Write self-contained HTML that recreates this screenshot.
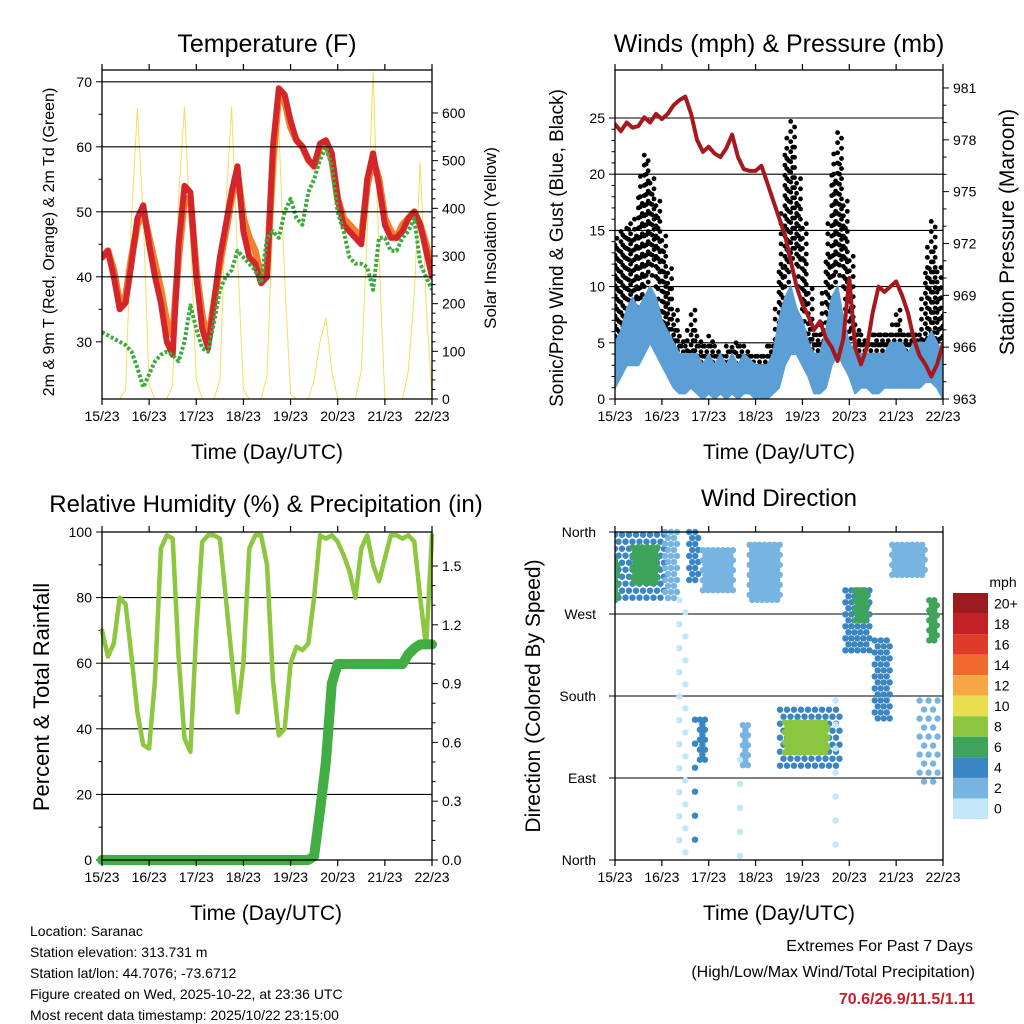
<!DOCTYPE html>
<html><head><meta charset="utf-8"><title>Saranac Station Meteogram</title>
<style>
html,body{margin:0;padding:0;background:#fff;}
svg{display:block;font-family:"Liberation Sans",Arial,sans-serif;}
</style></head>
<body>
<svg id="chart" width="1024" height="1024" viewBox="0 0 1024 1024" xmlns="http://www.w3.org/2000/svg"></svg>
<script>
// ---------- DATA (3-hourly, starting 15/23 UTC) ----------
const dayLabels = ['15/23','16/23','17/23','18/23','19/23','20/23','21/23','22/23'];
const tempRed = [43,44,40,35,36,42,49,51,45,40,36,30,28,45,54,53,40,32,29,36,43,48,53,57,47,43,42,39,40,60,69,68,64,61,60,58,57,60.5,61,59,52,48,47,46,45,55,59,54,48,46,46,47,49,50,48,44,40];
const tempOrange = [43,44,41,36,37,43,48,50,46,42,38,33,31,43,52,52,41,34,30,36,42,47,52,56,49,46,44,40,41,58,68,67,63,61,60,58,57,60,60.5,58,52,49,48,47,46,54,58,55,49,47,46,48,49,50,48,45,41];
const dewGreen = [31.5,31,30.5,30,29.5,28.5,26,23,25,27,28,28.5,28,27,30,35.6,32,29,28.5,33,38,40,41,44,43,42,41,39,46,47,46,50,52,49,48,53,55,58,60,57,50,47,43,42,42,41.5,38,46,46,44,44,46,47,49,42,40,38];
const solar = [0,0,0,0,20,380,610,380,30,0,0,0,30,420,612,350,40,0,0,0,40,400,612,300,20,0,0,0,50,380,570,250,10,0,0,0,40,120,170,60,0,0,0,0,60,350,686,300,0,0,0,0,60,220,497,200,0];
const windHi = [5,6,8,9,8,9,10,9,7,6,5,4,4,4,4,3,4,3,4,3,4,3,4,3.5,3,3,3,4,7,9,10,8,7,5,4,4,6,9,10,7,5,4,4,4,4,4,4,5,5,5,4,5,5,5,6,5,4];
const windLo = [1,2,3,3,3,4,5,4,3,2,1,0.5,0.5,1,0.5,0,0.5,0,0.5,0,0.5,0,0.5,0.5,0,0,0,0.5,1,3,4,4,3,2,0.5,0.5,1,3,4,3,2,0.5,1,1,0.5,0.5,1,1,1,1,1,1,1,1.5,1.5,1,0];
const gustLo = [2,5,8,6,8,10,12,10,6,4,3,2,2,3,2,2,2,2,2,2,1,2,2,2,2,2,2,2,5,10,13,12,8,4,3,3,5,10,12,10,6,3,3,3,3,3,3,3,3,3,3,3,3,4,5,5,2];
const gustHi = [14,15,16,15,18,22,20,18,15,12,8,6,5,8,6,5,6,5,4,5,5,5,5,4,4,4,5,5,12,22,25,20,16,10,6,7,13,20,24,18,13,7,6,5,6,6,6,6,8,6,6,6,6,12,16,12,8];
const pressure = [978.9,978.5,979,978.7,978.8,979.3,979,979.5,979.2,979.5,980,980.3,980.5,979.5,978,977.3,977.6,977.2,977,977.5,978.3,977,976.3,976.2,976.2,976.5,975.5,974.5,973.5,972.5,971,969.5,968.5,967.8,967,967.5,966.5,966,965.2,966.5,970,966,965,966,968,969.5,969.2,969.5,969.8,969,968,966.5,965.5,965,964.3,965,966.2];
const rh = [70,62,66,80,78,62,45,35,34,55,95,99,98,62,37,33,70,97,99,99,98,80,62,45,60,95,99,99,90,55,38,40,60,65,64,66,80,99,98,99,97,93,88,80,95,99,90,85,92,99,99,98,99,97,80,65,99];
const precip = [0,0,0,0,0,0,0,0,0,0,0,0,0,0,0,0,0,0,0,0,0,0,0,0,0,0,0,0,0,0,0,0,0,0,0,0,0.02,0.25,0.5,0.9,1.0,1.0,1.0,1.0,1.0,1.0,1.0,1.0,1.0,1.0,1.0,1.0,1.05,1.08,1.1,1.1,1.1];
// wind-direction observation clusters (hours from start, degrees, mph)
const cH0 = [0,9,25.6,38,45,69,33,41,43.5,65.5,84.5,87,118,123,133,142,156,161,113,64,0];
const cH1 = [25.6,23,33,43.5,61,84.5,37,43.5,46.6,69,115,109,130.5,130.5,141,159,166,166,115,66.5,2.5];
const cD0 = [285,300,285,307,296,285,0,0,110,104,99,115,230,263,154,313,77,241,0,0,285];
const cD1 = [357,343,360,360,340,346,285,154,154,148,165,151,296,296,241,346,175,285,175,110,329];
const cSpeed = [4,7,2,4,2,2,1,4,4,3.5,4,8,4,7,4,2,2,6,1,1,6];
const cbLabels = ['20+','18','16','14','12','10','8','6','4','2','0'];
const cbColors = ['#9b1b1e','#c42127','#e03a2b','#f0692d','#f6a743','#e8df4f','#8cc63f','#3ea35b','#3a86c5','#78b4e2','#c3e6f8'];
// dot spacing per cluster (styling only)
const cStep = [7,5,6,6,5,5,12,12,5,5,7,5,6,5,6,5,9,5,12,12,5];

// ---------- helpers ----------
const NS='http://www.w3.org/2000/svg';
const S=document.getElementById('chart');
function el(tag,a,p){const e=document.createElementNS(NS,tag);for(const k in a)e.setAttribute(k,a[k]);(p||S).appendChild(e);return e;}
function txt(x,y,s,size,anchor,p,extra){const t=el('text',Object.assign({x:x,y:y,'font-size':size,'text-anchor':anchor||'middle',fill:'#000'},extra||{}),p);t.textContent=s;return t;}

function box(name){
  const g=el('g',{});
  
  
  return g;
}
function frame(g,x0,y0,x1,y1){
  const r=el('rect',{x:x0,y:y0,width:x1-x0,height:y1-y0,fill:'none',stroke:'#000','stroke-width':1.3},g);
  
  
}
function xAxis(g,xf,y0,y1){
  for(let d=0;d<dayLabels.length;d++){
    const x=xf(d*24);
    const t1=el('line',{x1:x,x2:x,y1:y1,y2:y1+6,stroke:'#000','stroke-width':1.2},g);
    
    
    const t2=el('line',{x1:x,x2:x,y1:y0,y2:y0-6,stroke:'#000','stroke-width':1.2},g);
    
    
    const l=txt(x,y1+22,dayLabels[d],14,'middle',g);
    
    
  }
}
function yAxis(g,side,xEdge,yf,vMin,vMax,major,minor,fmt,grid,gx0,gx1){
  const dir=side==='left'?-1:1;
  for(let v=vMin;v<=vMax+1e-9;v+=minor){
    const isMaj=Math.abs(Math.round((v-vMin)/major)*major-(v-vMin))<1e-6;
    const y=yf(v);
    const tk=el('line',{x1:xEdge,x2:xEdge+dir*(isMaj?6:3.5),y1:y,y2:y,stroke:'#000','stroke-width':1},g);
    
    
    if(isMaj){
      if(grid&&v>vMin+1e-9){
        const gl=el('line',{x1:gx0,x2:gx1,y1:y,y2:y,stroke:'#000','stroke-width':1.1},g);
        
        
      }
      const l=txt(xEdge+dir*10,y+5,fmt(v),14,side==='left'?'end':'start',g);
      
      
    }
  }
}
function vtitle(g,x,y,s,size,name){
  const t=txt(0,0,s,size,'middle',g,{transform:'translate('+x+','+y+') rotate(-90)'});
  
  
}
function line(g,vals,xf,yf,attrs,name){
  const pts=vals.map((v,i)=>xf(i*3).toFixed(1)+','+yf(v).toFixed(1)).join(' ');
  const p=el('polyline',Object.assign({points:pts,fill:'none','stroke-linejoin':'round','stroke-linecap':'round'},attrs),g);
  
  
  return p;
}
function speedColor(s){const idx=Math.min(10,Math.floor(s/2));return cbColors[10-idx];}

// ---------- Panel 1: temperature ----------
(function(){
  const X0=102,X1=432,Y0=70,Y1=399;
  const xf=h=>X0+h/168*(X1-X0);
  const yT=v=>399-(v-21.2)*6.5;
  const yS=v=>399-v*0.4767;
  const g=box('temperature-panel');
  const cp=el('clipPath',{id:'c1'},g);el('rect',{x:X0,y:Y0,width:X1-X0,height:Y1-Y0},cp);
  const pl=el('g',{'clip-path':'url(#c1)'},g);
  yAxis(g,'left',X0,yT,30,70,10,5,v=>String(v),true,X0,X1);
  yAxis(g,'right',X1,yS,0,600,100,20,v=>String(v),false);
  line(pl,solar,xf,yS,{stroke:'#f7dc5c','stroke-width':1},'solar-insolation-line');
  line(pl,tempOrange,xf,yT,{stroke:'#f47f2b','stroke-width':7},'temp-9m-line');
  line(pl,tempRed,xf,yT,{stroke:'#d3262a','stroke-width':6},'temp-2m-line');
  line(pl,dewGreen,xf,yT,{stroke:'#3daa3f','stroke-width':4,'stroke-dasharray':'3 2','stroke-linecap':'butt'},'dewpoint-line');
  frame(g,X0,Y0,X1,Y1);
  xAxis(g,xf,Y0,Y1);
  const t=txt(267,52,'Temperature (F)',25,'middle',g);
  const xt=txt(267,459,'Time (Day/UTC)',21,'middle',g);
  vtitle(g,54,242,'2m & 9m T (Red, Orange) & 2m Td (Green)',16,'y-axis-title-left');
  vtitle(g,496,238,'Solar Insolation (Yellow)',17,'y-axis-title-right');
})();

// ---------- Panel 2: winds & pressure ----------
(function(){
  const X0=615,X1=943,Y0=70,Y1=399;
  const xf=h=>X0+h/168*(X1-X0);
  const yW=v=>399-v*11.24;
  const yP=p=>399-(p-963)*17.28;
  const g=box('winds-panel');
  const cp=el('clipPath',{id:'c2'},g);el('rect',{x:X0,y:Y0,width:X1-X0,height:Y1-Y0},cp);
  yAxis(g,'left',X0,yW,0,25,5,1,v=>String(v),true,X0,X1);
  yAxis(g,'right',X1,yP,963,981,3,1,v=>String(v),false);
  const pl=el('g',{'clip-path':'url(#c2)'},g);
  for(let i=0;i<gustLo.length;i++){
    for(let k=0;k<3;k++){
      if(i===gustLo.length-1&&k>0)continue;
      const j=Math.min(i+1,gustLo.length-1);
      const lo=k===1?(gustLo[i]+gustLo[j])/2:gustLo[i];
      const hi=k===1?(gustHi[i]+gustHi[j])/2:gustHi[i];
      for(let v=lo+(k===2?0.4:0);v<=hi;v+=0.9){
        const c=el('circle',{cx:xf(i*3+k).toFixed(1),cy:yW(v).toFixed(1),r:2.4,fill:'#000'},pl);
        
        
      }
    }
  }
  const top=windHi.map((v,i)=>xf(i*3).toFixed(1)+','+yW(v).toFixed(1));
  const bot=windLo.map((v,i)=>xf(i*3).toFixed(1)+','+yW(v).toFixed(1)).reverse();
  const band=el('polygon',{points:top.concat(bot).join(' '),fill:'#5b9fd6',stroke:'#5b9fd6','stroke-width':2,'stroke-linejoin':'round'},pl);
  
  
  line(pl,pressure,xf,yP,{stroke:'#a5191e','stroke-width':4},'pressure-line');
  frame(g,X0,Y0,X1,Y1);
  xAxis(g,xf,Y0,Y1);
  const t=txt(779,52,'Winds (mph) & Pressure (mb)',25,'middle',g);
  const xt=txt(779,459,'Time (Day/UTC)',21,'middle',g);
  vtitle(g,563,248,'Sonic/Prop Wind & Gust (Blue, Black)',19,'y-axis-title-left');
  vtitle(g,1014,232,'Station Pressure (Maroon)',21,'y-axis-title-right');
})();

// ---------- Panel 3: RH & precip ----------
(function(){
  const X0=102,X1=432,Y0=532,Y1=860;
  const xf=h=>X0+h/168*(X1-X0);
  const yR=v=>860-v*3.28;
  const yPr=v=>860-v*196;
  const g=box('humidity-panel');
  const cp=el('clipPath',{id:'c3'},g);el('rect',{x:X0-6,y:Y0,width:X1-X0+12,height:Y1-Y0+6},cp);
  yAxis(g,'left',X0,yR,0,100,20,10,v=>String(v),true,X0,X1);
  yAxis(g,'right',X1,yPr,0,1.5,0.3,0.1,v=>v.toFixed(1),false);
  const pl=el('g',{'clip-path':'url(#c3)'},g);
  line(pl,rh,xf,yR,{stroke:'#8dc63f','stroke-width':4.5},'relative-humidity-line');
  line(pl,precip,xf,yPr,{stroke:'#42ad45','stroke-width':10},'precipitation-line');
  frame(g,X0,Y0,X1,Y1);
  xAxis(g,xf,Y0,Y1);
  const t=txt(266,512,'Relative Humidity (%) & Precipitation (in)',24,'middle',g);
  const xt=txt(266,920,'Time (Day/UTC)',21,'middle',g);
  vtitle(g,49,697,'Percent & Total Rainfall',22,'y-axis-title-left');
})();

// ---------- Panel 4: wind direction ----------
(function(){
  const X0=615,X1=943,Y0=532,Y1=860;
  const xf=h=>X0+h/168*(X1-X0);
  const yD=d=>860-d/360*328;
  const g=box('wind-direction-panel');
  const dirLabels=['North','East','South','West','North'];
  for(let i=0;i<5;i++){
    const y=yD(i*90);
    if(i>0&&i<4){const gl=el('line',{x1:X0,x2:X1,y1:y,y2:y,stroke:'#000','stroke-width':1.1},g);}
    const tk=el('line',{x1:X0,x2:X0-6,y1:y,y2:y,stroke:'#000'},g);
    const l=txt(X0-19,y+5,dirLabels[i],14,'end',g);
  }
  const cp=el('clipPath',{id:'c4'},g);el('rect',{x:X0,y:Y0-4,width:X1-X0,height:Y1-Y0+8},cp);
  const pl=el('g',{'clip-path':'url(#c4)'},g);
  for(let c=0;c<cH0.length;c++){
    const xa=xf(cH0[c]),xb=xf(cH1[c]),ya=yD(cD1[c]),yb=yD(cD0[c]);
    const st=cStep[c];let row=0;
    for(let y=ya;y<=yb;y+=st,row++){
      for(let x=xa+(row%2?st/2:0);x<=xb;x+=st){
        const d=el('circle',{cx:x.toFixed(1),cy:y.toFixed(1),r:3.2,fill:speedColor(cSpeed[c])},pl);
        
        
      }
    }
  }
  frame(g,X0,Y0,X1,Y1);
  xAxis(g,xf,Y0,Y1);
  const t=txt(779,506,'Wind Direction',24,'middle',g);
  const xt=txt(779,920,'Time (Day/UTC)',21,'middle',g);
  vtitle(g,540,696,'Direction (Colored By Speed)',21,'y-axis-title-left');
  // colorbar
  const cb=el('g',{},g);
  
  
  const u=txt(1003,587,'mph',14,'middle',cb);
  const bh=226/cbLabels.length;
  for(let i=0;i<cbLabels.length;i++){
    const r=el('rect',{x:953,y:593+i*bh,width:35,height:bh,fill:cbColors[i]},cb);
    
    
    const l=txt(994,593+i*bh+bh/2+5,cbLabels[i],14,'start',cb);
    
    
  }
})();

// ---------- footer text ----------
(function(){
  const info=['Location: Saranac','Station elevation: 313.731 m','Station lat/lon: 44.7076; -73.6712','Figure created on Wed, 2025-10-22, at 23:36 UTC','Most recent data timestamp: 2025/10/22 23:15:00'];
  for(let i=0;i<info.length;i++){
    const t=txt(30,936+i*21,info[i],14,'start');
    
    
  }
  const a=txt(973,951,'Extremes For Past 7 Days',16,'end');
  const b=txt(975,977,'(High/Low/Max Wind/Total Precipitation)',16,'end');
  const c=txt(975,1004,'70.6/26.9/11.5/1.11',16,'end',null,{fill:'#c8202a','font-weight':'bold'});
})();
</script>
</body></html>
